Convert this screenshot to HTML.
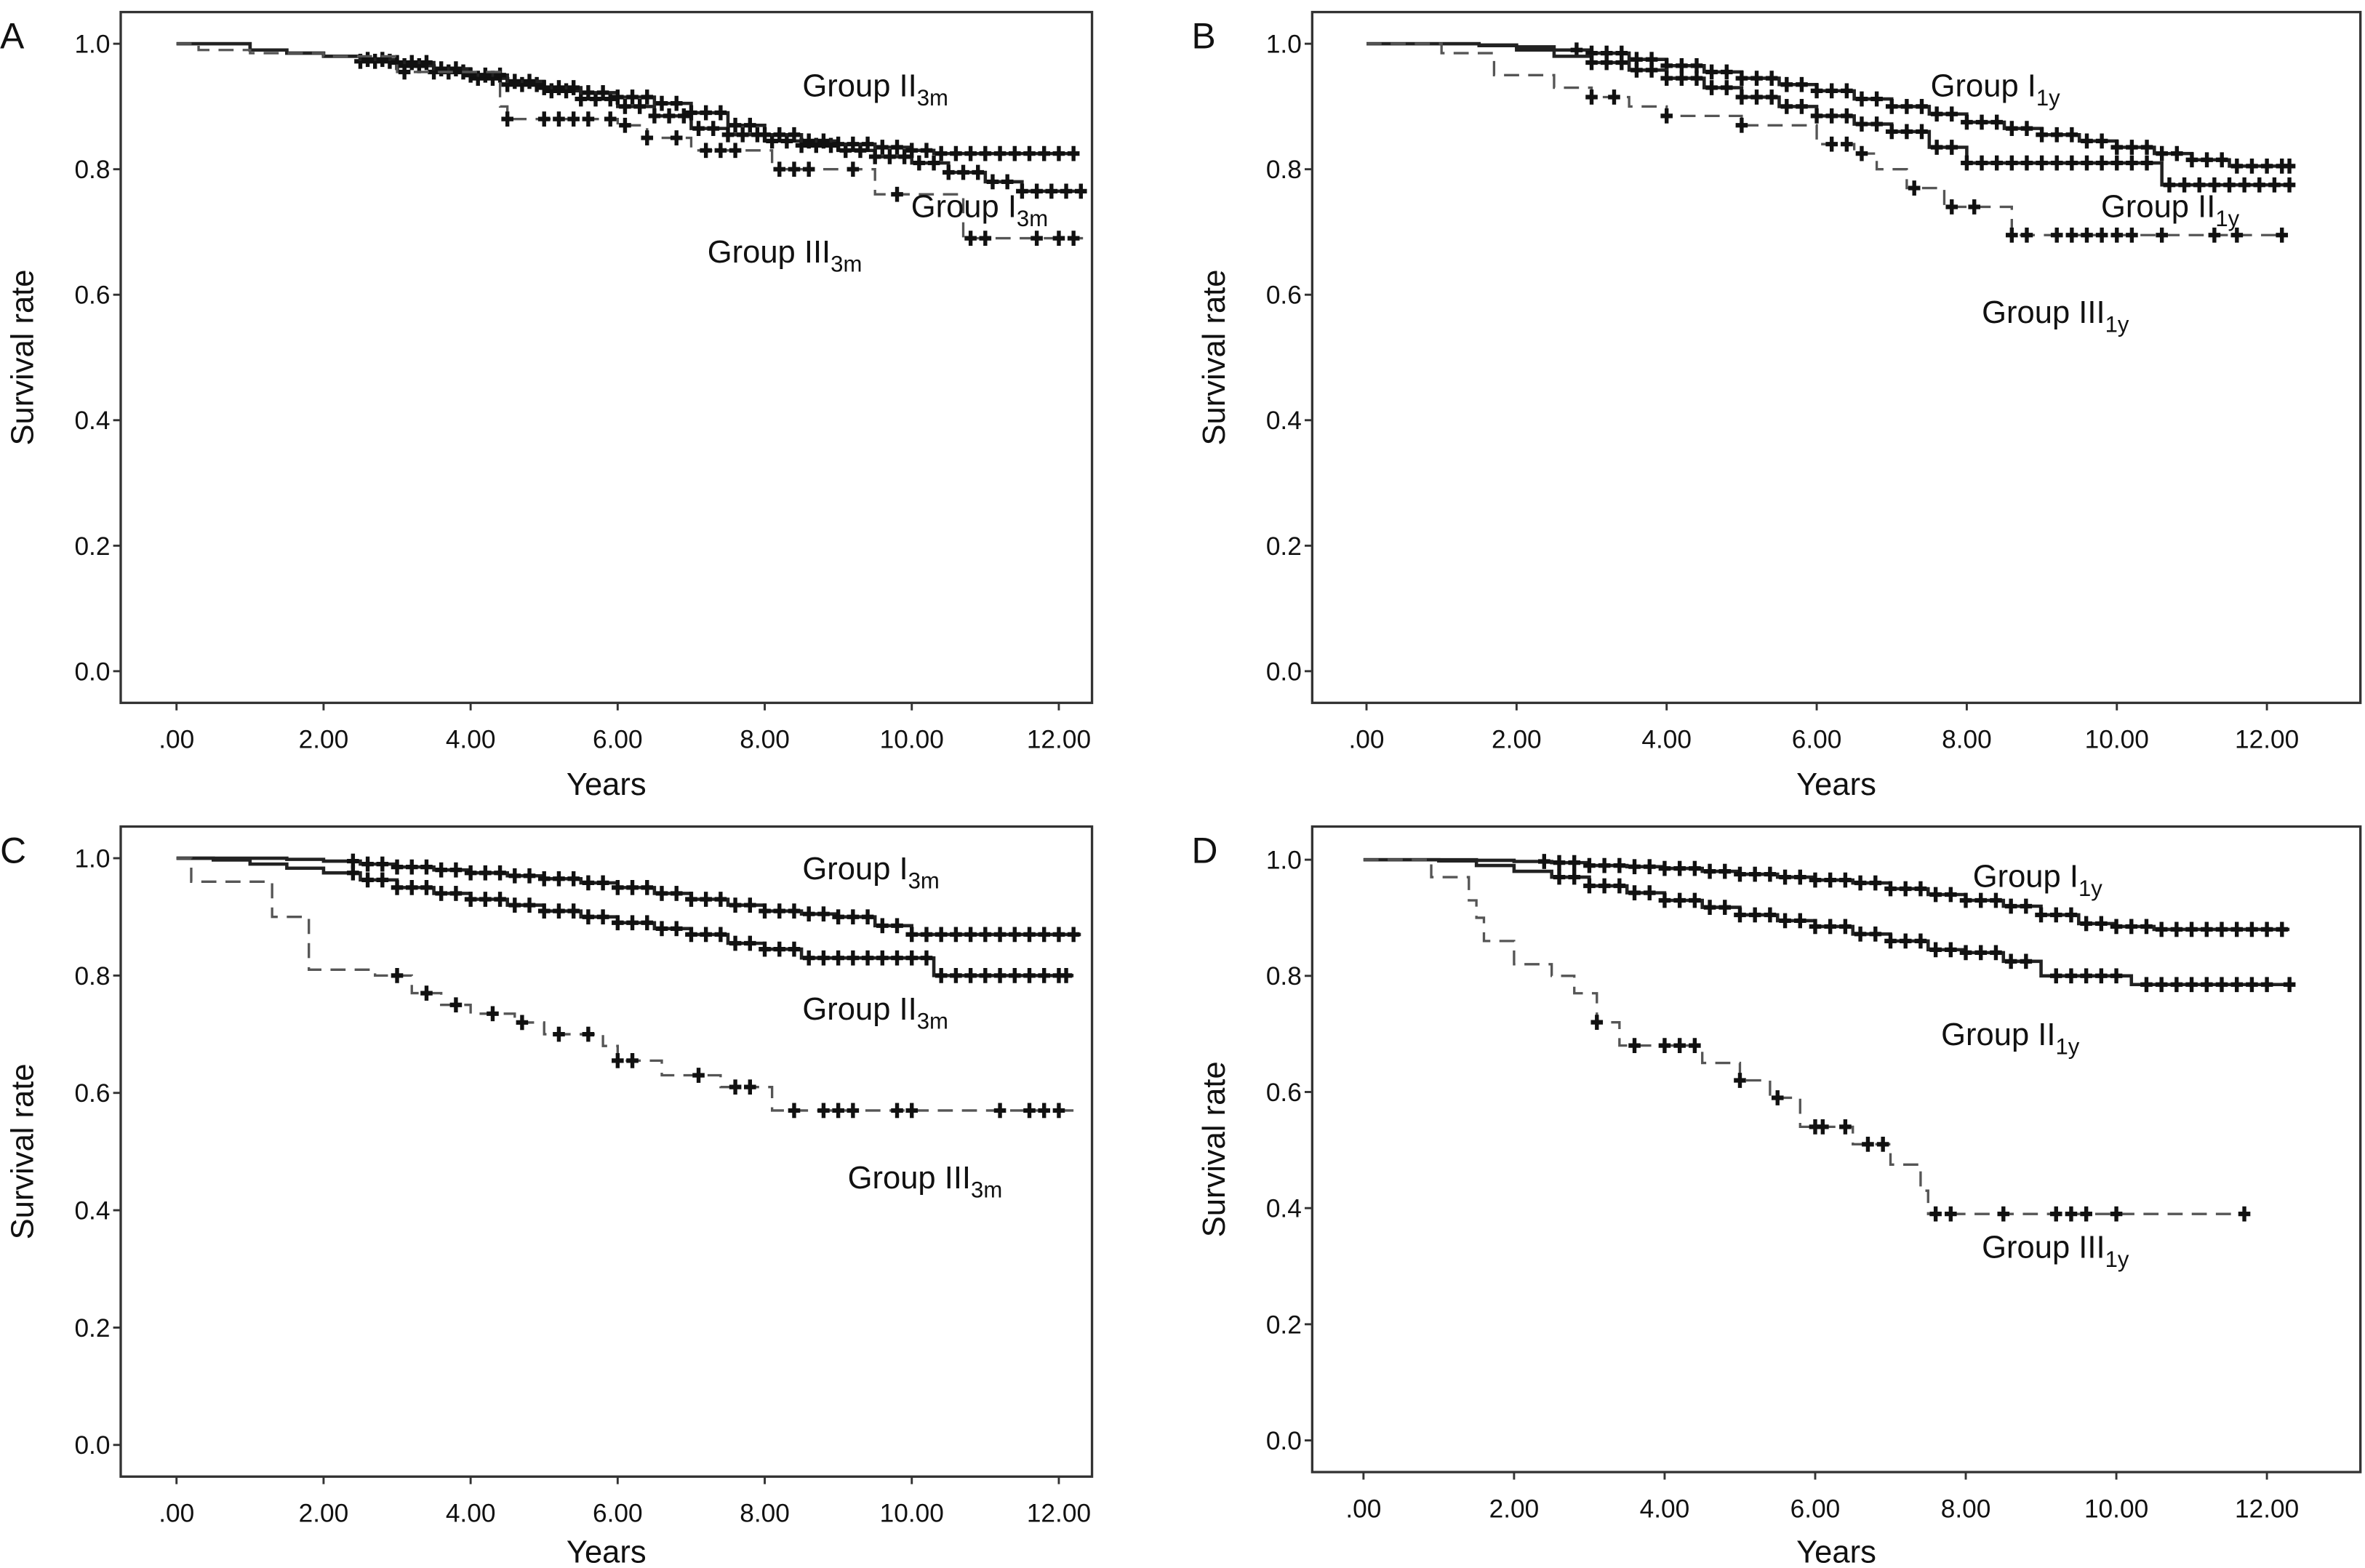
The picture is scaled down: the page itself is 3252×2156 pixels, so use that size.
<!DOCTYPE html>
<html><head><meta charset="utf-8">
<style>
html,body{margin:0;padding:0;background:#fff;}
svg{display:block;}
text{font-family:"Liberation Sans",sans-serif;fill:#111;}
</style></head>
<body>
<svg id="fig" width="3252" height="2156" viewBox="0 0 1568 1039.6" xmlns="http://www.w3.org/2000/svg"></svg>
<script>
// ---- Panel A data ----
const A_I_t=[0,1,1.5,2,2.5,3,3.5,4,4.5,5,5.5,6,6.5,7,7.5,8,8.5,9,9.5,10,10.5,11,11.5];
const A_I_s=[1,0.99,0.985,0.98,0.972,0.965,0.955,0.945,0.935,0.925,0.912,0.9,0.885,0.865,0.855,0.845,0.838,0.83,0.82,0.81,0.795,0.78,0.765];
const A_I_c=[2.5,2.7,2.9,3.1,3.3,3.5,3.7,3.9,4.1,4.3,4.5,4.7,4.9,5.1,5.3,5.5,5.7,5.9,6.1,6.3,6.5,6.7,6.9,7.1,7.3,7.5,7.7,7.9,8.1,8.3,8.5,8.7,8.9,9.1,9.3,9.5,9.7,9.9,10.1,10.3,10.5,10.7,10.9,11.1,11.3,11.5,11.7,11.9,12.1,12.3];
const A_II_t=[0,1,1.5,2,2.5,3,3.5,4,4.5,5,5.5,6,6.5,7,7.5,8,8.5,9,9.5,10,10.3];
const A_II_s=[1,0.99,0.985,0.98,0.975,0.97,0.96,0.95,0.94,0.93,0.922,0.915,0.905,0.89,0.87,0.855,0.845,0.84,0.835,0.83,0.825];
const A_II_c=[2.6,2.8,3,3.2,3.4,3.6,3.8,4,4.2,4.4,4.6,4.8,5,5.2,5.4,5.6,5.8,6,6.2,6.4,6.6,6.8,7,7.2,7.4,7.6,7.8,8,8.2,8.4,8.6,8.8,9,9.2,9.4,9.6,9.8,10,10.2,10.4,10.6,10.8,11,11.2,11.4,11.6,11.8,12,12.2];
const A_III_t=[0,0.3,1,2,3,4.4,4.5,6,6.4,7,8.1,9.5,10.7];
const A_III_s=[1,0.99,0.985,0.98,0.955,0.9,0.88,0.87,0.85,0.83,0.8,0.76,0.69];
const A_III_c=[3.1,4.5,5,5.2,5.4,5.6,5.9,6.1,6.4,6.8,7.2,7.4,7.6,8.2,8.4,8.6,9.2,9.8,10.8,11,11.7,12,12.2];
const A_III_end=12.4;
// ---- Panel B data ----
const B_I_t=[0,1.5,2,2.5,3,3.5,4,4.5,5,5.5,6,6.5,7,7.5,8,8.5,9,9.5,10,10.5,11,11.5];
const B_I_s=[1,0.998,0.995,0.99,0.985,0.975,0.965,0.955,0.945,0.935,0.925,0.912,0.9,0.888,0.875,0.865,0.855,0.845,0.835,0.825,0.815,0.805];
const B_I_c=[2.8,3,3.2,3.4,3.6,3.8,4,4.2,4.4,4.6,4.8,5,5.2,5.4,5.6,5.8,6,6.2,6.4,6.6,6.8,7,7.2,7.4,7.6,7.8,8,8.2,8.4,8.6,8.8,9,9.2,9.4,9.6,9.8,10,10.2,10.4,10.6,10.8,11,11.2,11.4,11.6,11.8,12,12.2,12.3];
const B_II_t=[0,1.5,2,2.5,3,3.5,4,4.5,5,5.5,6,6.5,7,7.5,8,10.6];
const B_II_s=[1,0.997,0.99,0.98,0.97,0.958,0.945,0.93,0.915,0.9,0.885,0.872,0.86,0.835,0.81,0.775];
const B_II_c=[3,3.2,3.4,3.6,3.8,4,4.2,4.4,4.6,4.8,5,5.2,5.4,5.6,5.8,6,6.2,6.4,6.6,6.8,7,7.2,7.4,7.6,7.8,8,8.2,8.4,8.6,8.8,9,9.2,9.4,9.6,9.8,10,10.2,10.4,10.7,10.9,11.1,11.3,11.5,11.7,11.9,12.1,12.3];
const B_III_t=[0,1,1.7,2.5,3,3.5,4,5,6,6.5,6.8,7.2,7.7,8.6];
const B_III_s=[1,0.985,0.95,0.93,0.915,0.9,0.885,0.87,0.84,0.825,0.8,0.77,0.74,0.695];
const B_III_c=[3,3.3,4,5,6.2,6.4,6.6,7.3,7.8,8.1,8.6,8.8,9.2,9.4,9.6,9.8,10,10.2,10.6,11.3,11.6,12.2];
const B_III_end=12.2;
// ---- Panel C data ----
const C_I_t=[0,1.5,2,2.5,3,3.5,4,4.5,5,5.5,6,6.5,7,7.5,8,8.5,9,9.5,10];
const C_I_s=[1,0.998,0.995,0.99,0.985,0.98,0.975,0.97,0.965,0.958,0.95,0.94,0.93,0.92,0.91,0.905,0.9,0.885,0.87];
const C_I_c=[2.4,2.6,2.8,3,3.2,3.4,3.6,3.8,4,4.2,4.4,4.6,4.8,5,5.2,5.4,5.6,5.8,6,6.2,6.4,6.6,6.8,7,7.2,7.4,7.6,7.8,8,8.2,8.4,8.6,8.8,9,9.2,9.4,9.6,9.8,10,10.2,10.4,10.6,10.8,11,11.2,11.4,11.6,11.8,12,12.2];
const C_II_t=[0,0.5,1,1.5,2,2.5,3,3.5,4,4.5,5,5.5,6,6.5,7,7.5,8,8.5,10.3];
const C_II_s=[1,0.997,0.99,0.983,0.975,0.963,0.95,0.94,0.93,0.92,0.91,0.9,0.89,0.88,0.87,0.855,0.845,0.83,0.8];
const C_II_c=[2.4,2.6,2.8,3,3.2,3.4,3.6,3.8,4,4.2,4.4,4.6,4.8,5,5.2,5.4,5.6,5.8,6,6.2,6.4,6.6,6.8,7,7.2,7.4,7.6,7.8,8,8.2,8.4,8.6,8.8,9,9.2,9.4,9.6,9.8,10,10.2,10.4,10.6,10.8,11,11.2,11.4,11.6,11.8,12,12.1];
const C_III_t=[0,0.2,1.3,1.8,2.7,3.2,3.6,4,4.6,5,5.8,6,6.6,7.4,8.1];
const C_III_s=[1,0.96,0.9,0.81,0.8,0.77,0.75,0.735,0.72,0.7,0.68,0.655,0.63,0.61,0.57];
const C_III_c=[3,3.4,3.8,4.3,4.7,5.2,5.6,6,6.2,7.1,7.6,7.8,8.4,8.8,9,9.2,9.8,10,11.2,11.6,11.8,12];
const C_III_end=12.3;
// ---- Panel D data ----
const D_I_t=[0,1.5,2,2.5,3,3.5,4,4.5,5,5.5,6,6.5,7,7.5,8,8.5,9,9.5,10,10.5];
const D_I_s=[1,0.999,0.997,0.995,0.99,0.988,0.985,0.98,0.975,0.97,0.965,0.96,0.95,0.94,0.93,0.92,0.905,0.89,0.885,0.88];
const D_I_c=[2.4,2.6,2.8,3,3.2,3.4,3.6,3.8,4,4.2,4.4,4.6,4.8,5,5.2,5.4,5.6,5.8,6,6.2,6.4,6.6,6.8,7,7.2,7.4,7.6,7.8,8,8.2,8.4,8.6,8.8,9,9.2,9.4,9.6,9.8,10,10.2,10.4,10.6,10.8,11,11.2,11.4,11.6,11.8,12,12.2];
const D_II_t=[0,1,1.5,2,2.5,3,3.5,4,4.5,5,5.5,6,6.5,7,7.5,8,8.5,9,10.2];
const D_II_s=[1,0.998,0.99,0.98,0.97,0.955,0.943,0.93,0.918,0.905,0.895,0.885,0.872,0.86,0.845,0.84,0.825,0.8,0.785];
const D_II_c=[2.6,2.8,3,3.2,3.4,3.6,3.8,4,4.2,4.4,4.6,4.8,5,5.2,5.4,5.6,5.8,6,6.2,6.4,6.6,6.8,7,7.2,7.4,7.6,7.8,8,8.2,8.4,8.6,8.8,9.2,9.4,9.6,9.8,10,10.4,10.6,10.8,11,11.2,11.4,11.6,11.8,12,12.3];
const D_III_t=[0,0.9,1.4,1.5,1.6,2,2.5,2.8,3.1,3.4,4.5,5,5.4,5.8,6.5,7,7.4,7.5];
const D_III_s=[1,0.97,0.93,0.9,0.86,0.82,0.8,0.77,0.72,0.68,0.65,0.62,0.59,0.54,0.51,0.475,0.43,0.39];
const D_III_c=[3.1,3.6,4,4.2,4.4,5,5.5,6,6.1,6.4,6.7,6.9,7.6,7.8,8.5,9.2,9.4,9.6,10,11.7];
const D_III_end=11.7;

const yTicks=[0,0.2,0.4,0.6,0.8,1.0];
const yTickLabels=["0.0","0.2","0.4","0.6","0.8","1.0"];
const xTicks=[0,2,4,6,8,10,12];
const xTickLabels=[".00","2.00","4.00","6.00","8.00","10.00","12.00"];

const NS="http://www.w3.org/2000/svg";
const svg=document.getElementById('fig');
function mk(tag,attrs,parent){const e=document.createElementNS(NS,tag);for(const k in attrs)e.setAttribute(k,attrs[k]);(parent||svg).appendChild(e);return e;}

function panel(cfg){
  const g=mk('g',{});
  
  
  const X=v=>cfg.x0+(v/12)*(cfg.x12-cfg.x0);
  const Y=v=>cfg.y0-v*(cfg.y0-cfg.y1);
  const box=mk('rect',{x:cfg.bx0,y:cfg.by0,width:cfg.bx1-cfg.bx0,height:cfg.by1-cfg.by0,fill:'none',stroke:'#333','stroke-width':1.6},g);
  
  
  const letter=mk('text',{x:cfg.bx0-80,y:cfg.by0+24,'font-size':24},g);
  letter.textContent=cfg.letter;
  
  
  yTicks.forEach((v,i)=>{
    mk('line',{x1:cfg.bx0-5,x2:cfg.bx0,y1:Y(v),y2:Y(v),stroke:'#333','stroke-width':1.4},g);
    const t=mk('text',{x:cfg.bx0-7,y:Y(v)+6,'font-size':17,'text-anchor':'end'},g);
    t.textContent=yTickLabels[i];
    
    
  });
  xTicks.forEach((v,i)=>{
    mk('line',{x1:X(v),x2:X(v),y1:cfg.by1,y2:cfg.by1+5,stroke:'#333','stroke-width':1.4},g);
    const t=mk('text',{x:X(v),y:cfg.by1+30,'font-size':17,'text-anchor':'middle'},g);
    t.textContent=xTickLabels[i];
    
    
  });
  const xt=mk('text',{x:(cfg.bx0+cfg.bx1)/2,y:cfg.by1+cfg.xto,'font-size':21,'text-anchor':'middle'},g);
  xt.textContent='Years';
  
  
  const cy=(cfg.by0+cfg.by1)/2;
  const yt=mk('text',{x:0,y:0,'font-size':21,'text-anchor':'middle',transform:`translate(${cfg.bx0-58},${cy}) rotate(-90)`},g);
  yt.textContent='Survival rate';
  
  

  cfg.series.forEach(s=>{
    const t=s.t,v=s.s;
    let d=`M${X(t[0])},${Y(v[0])}`;
    for(let i=1;i<t.length;i++){d+=` H${X(t[i])} V${Y(v[i])}`;}
    d+=` H${X(s.end)}`;
    const p=mk('path',{d:d,fill:'none',stroke:s.dash?'#555':'#222','stroke-width':s.dash?1.6:2.2,'stroke-dasharray':s.dash?'10,6':'none'},g);
    
    
    s.c.forEach(c=>{
      let val=v[0];for(let i=0;i<t.length;i++){if(t[i]<=c)val=v[i];}
      const m=mk('line',{x1:X(c),x2:X(c),y1:Y(val)-5,y2:Y(val)+5,stroke:'#111','stroke-width':2.6},g);
      
      
      mk('line',{x1:X(c)-4,x2:X(c)+4,y1:Y(val),y2:Y(val),stroke:'#111','stroke-width':3},g);
    });
  });
  cfg.labels.forEach(l=>{
    const t=mk('text',{x:l.x,y:l.y,'font-size':21},g);
    
    
    t.appendChild(document.createTextNode(l.main));
    const sub=mk('tspan',{dy:6,'font-size':15},t);sub.textContent=l.sub;
  });
}

panel({letter:'A',bx0:80,bx1:724,by0:8,by1:466,x0:117,x12:702,y0:445,y1:29,xto:61,
  series:[
    {name:'group-i-3m',t:A_I_t,s:A_I_s,c:A_I_c,end:12.3},
    {name:'group-ii-3m',t:A_II_t,s:A_II_s,c:A_II_c,end:12.2},
    {name:'group-iii-3m',t:A_III_t,s:A_III_s,c:A_III_c,end:A_III_end,dash:true}],
  labels:[{x:532,y:64,main:'Group II',sub:'3m'},{x:604,y:144,main:'Group I',sub:'3m'},{x:469,y:174,main:'Group III',sub:'3m'}]});
panel({letter:'B',bx0:870,bx1:1565,by0:8,by1:466,x0:906,x12:1503,y0:445,y1:29,xto:61,
  series:[
    {name:'group-i-1y',t:B_I_t,s:B_I_s,c:B_I_c,end:12.3},
    {name:'group-ii-1y',t:B_II_t,s:B_II_s,c:B_II_c,end:12.3},
    {name:'group-iii-1y',t:B_III_t,s:B_III_s,c:B_III_c,end:B_III_end,dash:true}],
  labels:[{x:1280,y:64,main:'Group I',sub:'1y'},{x:1393,y:144,main:'Group II',sub:'1y'},{x:1314,y:214,main:'Group III',sub:'1y'}]});
panel({letter:'C',bx0:80,bx1:724,by0:548,by1:979,x0:117,x12:702,y0:958,y1:569,xto:57,
  series:[
    {name:'group-i-3m',t:C_I_t,s:C_I_s,c:C_I_c,end:12.3},
    {name:'group-ii-3m',t:C_II_t,s:C_II_s,c:C_II_c,end:12.2},
    {name:'group-iii-3m',t:C_III_t,s:C_III_s,c:C_III_c,end:C_III_end,dash:true}],
  labels:[{x:532,y:583,main:'Group I',sub:'3m'},{x:532,y:676,main:'Group II',sub:'3m'},{x:562,y:788,main:'Group III',sub:'3m'}]});
panel({letter:'D',bx0:870,bx1:1565,by0:548,by1:976,x0:904,x12:1503,y0:955,y1:570,xto:60,
  series:[
    {name:'group-i-1y',t:D_I_t,s:D_I_s,c:D_I_c,end:12.3},
    {name:'group-ii-1y',t:D_II_t,s:D_II_s,c:D_II_c,end:12.3},
    {name:'group-iii-1y',t:D_III_t,s:D_III_s,c:D_III_c,end:D_III_end,dash:true}],
  labels:[{x:1308,y:588,main:'Group I',sub:'1y'},{x:1287,y:693,main:'Group II',sub:'1y'},{x:1314,y:834,main:'Group III',sub:'1y'}]});
</script>
</body></html>
